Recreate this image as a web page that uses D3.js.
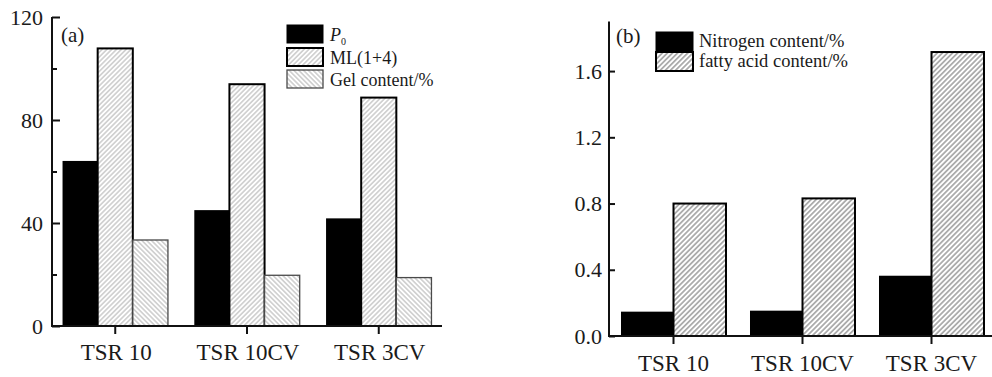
<!DOCTYPE html>
<html><head><meta charset="utf-8">
<script src="https://cdn.jsdelivr.net/npm/d3@7"></script>
<style>body{margin:0;background:#fff}svg{display:block}</style>
</head><body><svg id="c" width="992" height="377" font-family="'Liberation Serif', 'DejaVu Serif', serif"></svg>
<script>
const categories = ["TSR 10", "TSR 10CV", "TSR 3CV"];
// panel (a)
const seriesA = ["P0", "ML(1+4)", "Gel content/%"];
const p0Values = [64.1, 45.0, 41.8];
const mlValues = [107.8, 93.9, 88.7];
const gelValues = [33.4, 19.7, 18.8];
const ticksA = [0, 40, 80, 120];
const minorTicksA = [20, 60, 100];
// panel (b)
const seriesB = ["Nitrogen content/%", "fatty acid content/%"];
const nitrogenValues = [0.147, 0.153, 0.364];
const fattyValues = [0.80, 0.831, 1.715];
const ticksB = [0, 0.4, 0.8, 1.2, 1.6];

const svg = d3.select("#c");
const defs = svg.append("defs");
function hatch(id, angle, spacing, color, w) {
  const p = defs.append("pattern").attr("id", id).attr("patternUnits", "userSpaceOnUse")
    .attr("width", spacing).attr("height", spacing).attr("patternTransform", `rotate(${angle})`);
  p.append("rect").attr("width", spacing).attr("height", spacing).attr("fill", "#fff");
  p.append("line").attr("x1", spacing/2).attr("x2", spacing/2).attr("y1", 0).attr("y2", spacing)
    .attr("stroke", color).attr("stroke-width", w);
}
hatch("mlPat", 45, 3.4, "#a8a8a8", 0.9);
hatch("gelPat", -45, 3.4, "#a8a8a8", 0.9);
hatch("fatPat", 45, 3.6, "#6a6a6a", 1.0);

const styleA = [
  {fill: "#000", stroke: "none", sw: 0},
  {fill: "url(#mlPat)", stroke: "#000", sw: 2},
  {fill: "url(#gelPat)", stroke: "#4a4a4a", sw: 1.3}
];
const styleB = [
  {fill: "#000", stroke: "none", sw: 0},
  {fill: "url(#fatPat)", stroke: "#000", sw: 2}
];
const txtColor = "#1a1a1a";

// ---------- Panel (a) ----------
{
  const valsA = [p0Values, mlValues, gelValues];
  const x0 = d3.scaleBand().domain(categories).range([52, 442]).paddingInner(0.2).paddingOuter(0.08);
  const x1 = d3.scaleBand().domain(seriesA).range([0, x0.bandwidth()]);
  const y = d3.scaleLinear().domain([0, 120]).range([326, 17]);
  const g = svg.append("g");
  categories.forEach((c, i) => {
    seriesA.forEach((s, j) => {
      const st = styleA[j];
      g.append("rect").attr("x", x0(c) + x1(s)).attr("y", y(valsA[j][i]))
        .attr("width", x1.bandwidth()).attr("height", y(0) - y(valsA[j][i]))
        .attr("fill", st.fill).attr("stroke", st.stroke).attr("stroke-width", st.sw);
    });
  });
  const ya = g.append("g").attr("transform", "translate(52,0)")
    .call(d3.axisRight(y).tickValues(ticksA).tickSize(8).tickFormat(""));
  g.append("g").attr("transform", "translate(52,0)")
    .call(d3.axisRight(y).tickValues(minorTicksA).tickSize(5).tickFormat(""))
    .select(".domain").remove();
  ya.select(".domain").attr("d", `M0,${y(120)}V${y(0)}`);
  g.selectAll(".tick line, .domain").attr("stroke", "#111").attr("stroke-width", 2);
  ticksA.forEach(t => {
    g.append("text").attr("x", 43).attr("y", y(t)).attr("dy", "0.35em").attr("text-anchor", "end")
      .attr("font-size", 22).attr("fill", txtColor).text(t);
  });
  const xa = svg.append("g").attr("transform", `translate(0,${y(0)})`)
    .call(d3.axisBottom(x0).tickSize(8).tickSizeOuter(0).tickFormat(""));
  xa.select(".domain").attr("d", "M51,0H442").attr("stroke", "#111").attr("stroke-width", 2);
  xa.selectAll(".tick line").attr("stroke", "#111").attr("stroke-width", 2);
  categories.forEach(c => {
    svg.append("text").attr("x", x0(c) + x0.bandwidth()/2 + 1).attr("y", 360).attr("text-anchor", "middle")
      .attr("font-size", 23).attr("fill", txtColor).text(c);
  });
  svg.append("text").attr("x", 61).attr("y", 42).attr("font-size", 21).attr("fill", txtColor).text("(a)");
  const lg = svg.append("g");
  const ly = [25, 48, 70];
  seriesA.forEach((s, j) => {
    const st = styleA[j];
    lg.append("rect").attr("x", 287).attr("y", ly[j]).attr("width", 36).attr("height", 18)
      .attr("fill", st.fill).attr("stroke", j === 0 ? "#000" : st.stroke).attr("stroke-width", j === 0 ? 1 : st.sw);
  });
  const t0 = lg.append("text").attr("x", 330).attr("y", 41).attr("font-size", 18).attr("fill", txtColor);
  t0.append("tspan").attr("font-style", "italic").text("P");
  t0.append("tspan").attr("font-size", 10).attr("dy", 4).text("0");
  lg.append("text").attr("x", 330).attr("y", 64).attr("font-size", 18).attr("fill", txtColor).text(seriesA[1]);
  lg.append("text").attr("x", 330).attr("y", 86).attr("font-size", 18).attr("fill", txtColor).text(seriesA[2]);
}

// ---------- Panel (b) ----------
{
  const valsB = [nitrogenValues, fattyValues];
  const x0 = d3.scaleBand().domain(categories).range([609, 996]).paddingInner(0.186).paddingOuter(0.093);
  const x1 = d3.scaleBand().domain(seriesB).range([0, x0.bandwidth()]);
  const y = d3.scaleLinear().domain([0, 1.9]).range([336, 21.4]);
  const g = svg.append("g");
  categories.forEach((c, i) => {
    seriesB.forEach((s, j) => {
      const st = styleB[j];
      g.append("rect").attr("x", x0(c) + x1(s)).attr("y", y(valsB[j][i]))
        .attr("width", x1.bandwidth()).attr("height", y(0) - y(valsB[j][i]))
        .attr("fill", st.fill).attr("stroke", st.stroke).attr("stroke-width", st.sw);
    });
  });
  const ya = g.append("g").attr("transform", "translate(609,0)")
    .call(d3.axisRight(y).tickValues(ticksB).tickSize(6).tickFormat(""));
  ya.select(".domain").attr("d", `M0,${y(1.9)}V${y(0)}`);
  ya.selectAll(".tick line, .domain").attr("stroke", "#111").attr("stroke-width", 2);
  ticksB.forEach(t => {
    g.append("text").attr("x", 602).attr("y", y(t)).attr("dy", "0.35em").attr("text-anchor", "end")
      .attr("font-size", 22).attr("fill", txtColor).text(d3.format(".1f")(t));
  });
  const xa = svg.append("g").attr("transform", `translate(0,${y(0)})`)
    .call(d3.axisBottom(x0).tickSize(8).tickSizeOuter(0).tickFormat(""));
  xa.select(".domain").attr("d", "M608,0H992").attr("stroke", "#111").attr("stroke-width", 2);
  xa.selectAll(".tick line").attr("stroke", "#111").attr("stroke-width", 2);
  categories.forEach(c => {
    svg.append("text").attr("x", x0(c) + x0.bandwidth()/2).attr("y", 371).attr("text-anchor", "middle")
      .attr("font-size", 23).attr("fill", txtColor).text(c);
  });
  svg.append("text").attr("x", 616).attr("y", 43).attr("font-size", 21).attr("fill", txtColor).text("(b)");
  const lg = svg.append("g");
  const ly = [32, 52];
  seriesB.forEach((s, j) => {
    const st = styleB[j];
    lg.append("rect").attr("x", 656).attr("y", ly[j]).attr("width", 37).attr("height", 19)
      .attr("fill", st.fill).attr("stroke", "#000").attr("stroke-width", j === 0 ? 1 : 2);
    lg.append("text").attr("x", 699).attr("y", ly[j] + 15).attr("font-size", 18.5).attr("fill", txtColor).text(s);
  });
}
</script></body></html>
